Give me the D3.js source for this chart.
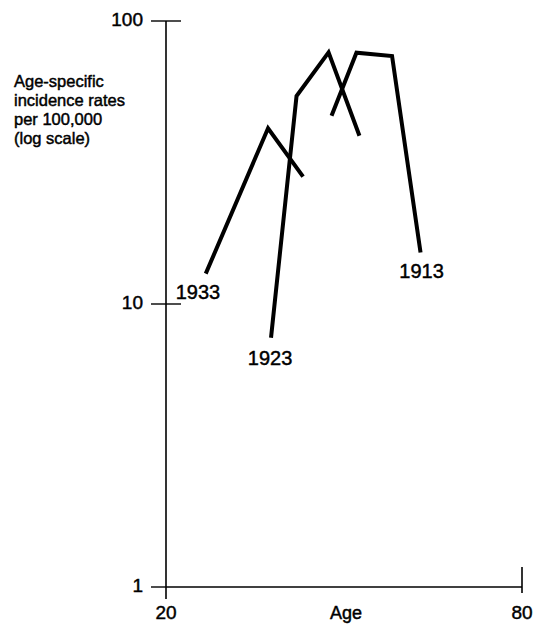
<!DOCTYPE html>
<html>
<head>
<meta charset="utf-8">
<script src="https://cdn.jsdelivr.net/npm/d3@7"></script>
<style>
  html, body { margin: 0; padding: 0; background: #fff; }
  svg { display: block; font-family: "Liberation Sans", Arial, Helvetica, sans-serif; }
  .thick { stroke: #000; stroke-width: 0.45px; }
</style>
</head>
<body>
<svg id="chart" width="538" height="624"></svg>
<script>
// Birth cohorts and their age-specific incidence rates (per 100,000)
const cohorts = ["1933", "1923", "1913"];
const ages1933 = [26.7, 37.2, 43.1];
const rates1933 = [12.8, 41.8, 28.2];
const ages1923 = [37.7, 42.0, 47.4, 52.6];
const rates1923 = [7.6, 54.3, 77.5, 39.3];
const ages1913 = [47.9, 52.1, 58.1, 62.9];
const rates1913 = [46.3, 77.3, 75.2, 15.2];

// Axis ticks
const yTicks = [1, 10, 100];
const yTickLabels = ["1", "10", "100"];
const xTicks = [20, 80];
const xTickLabels = ["20", "80"];
const xTitle = "Age";
const yTitle = ["Age-specific", "incidence rates", "per 100,000", "(log scale)"];

const svg = d3.select("#chart");

const x = d3.scaleLinear().domain([20, 80]).range([166, 522]);
const y = d3.scaleLog().domain([1, 100]).range([587, 21]);

const x0 = x(20), yBase = y(1);

// y axis line, extended a little below the age axis
svg.append("line")
  .attr("x1", x0).attr("x2", x0)
  .attr("y1", y(100)).attr("y2", yBase + 12)
  .attr("stroke", "#000").attr("stroke-width", 1.6);

// y ticks: 10 and 100 cross the axis, 1 only to the left
svg.selectAll(".ytick").data(yTicks).join("line")
  .attr("class", "ytick")
  .attr("x1", x0 - 15)
  .attr("x2", d => d === 1 ? x0 : x0 + 15)
  .attr("y1", d => y(d)).attr("y2", d => y(d))
  .attr("stroke", "#000").attr("stroke-width", 1.4);

svg.selectAll(".ylab").data(yTicks).join("text")
  .attr("class", "ylab thick")
  .attr("x", x0 - 23)
  .attr("y", d => y(d) + 5)
  .attr("text-anchor", "end")
  .attr("font-size", 19)
  .text((d, i) => yTickLabels[i]);

// age axis
svg.append("line")
  .attr("x1", x0).attr("x2", x(80))
  .attr("y1", yBase).attr("y2", yBase)
  .attr("stroke", "#000").attr("stroke-width", 1.4);

svg.append("line")
  .attr("x1", x(80)).attr("x2", x(80))
  .attr("y1", yBase - 20).attr("y2", yBase + 6)
  .attr("stroke", "#000").attr("stroke-width", 1.6);

svg.selectAll(".xlab").data(xTicks).join("text")
  .attr("class", "xlab thick")
  .attr("x", d => x(d))
  .attr("y", 619)
  .attr("text-anchor", "middle")
  .attr("font-size", 19)
  .text((d, i) => xTickLabels[i]);

svg.append("text")
  .attr("class", "thick")
  .attr("x", x(50) + 2)
  .attr("y", 619)
  .attr("text-anchor", "middle")
  .attr("font-size", 18)
  .text(xTitle);

// y axis title, four left-aligned lines
svg.append("text")
  .attr("class", "thick")
  .attr("x", 14)
  .attr("y", 87)
  .attr("font-size", 16.5)
  .selectAll("tspan").data(yTitle).join("tspan")
  .attr("x", 14)
  .attr("dy", (d, i) => i === 0 ? 0 : 19)
  .text(d => d);

// cohort curves
const series = [
  { name: cohorts[0], ages: ages1933, rates: rates1933, anchor: 0, dx: -30, dy: 25, align: "start" },
  { name: cohorts[1], ages: ages1923, rates: rates1923, anchor: 0, dx: -1, dy: 27, align: "middle" },
  { name: cohorts[2], ages: ages1913, rates: rates1913, anchor: 3, dx: 1, dy: 25, align: "middle" }
];

const line = d3.line()
  .x(d => x(d[0]))
  .y(d => y(d[1]));

svg.selectAll(".cohort").data(series).join("path")
  .attr("class", "cohort")
  .attr("d", s => line(s.ages.map((a, i) => [a, s.rates[i]])))
  .attr("fill", "none")
  .attr("stroke", "#000")
  .attr("stroke-width", 4)
  .attr("stroke-linejoin", "miter");

svg.selectAll(".cohortlab").data(series).join("text")
  .attr("class", "cohortlab thick")
  .attr("x", s => x(s.ages[s.anchor]) + s.dx)
  .attr("y", s => y(s.rates[s.anchor]) + s.dy)
  .attr("text-anchor", s => s.align)
  .attr("font-size", 20)
  .text(s => s.name);
</script>
</body>
</html>
